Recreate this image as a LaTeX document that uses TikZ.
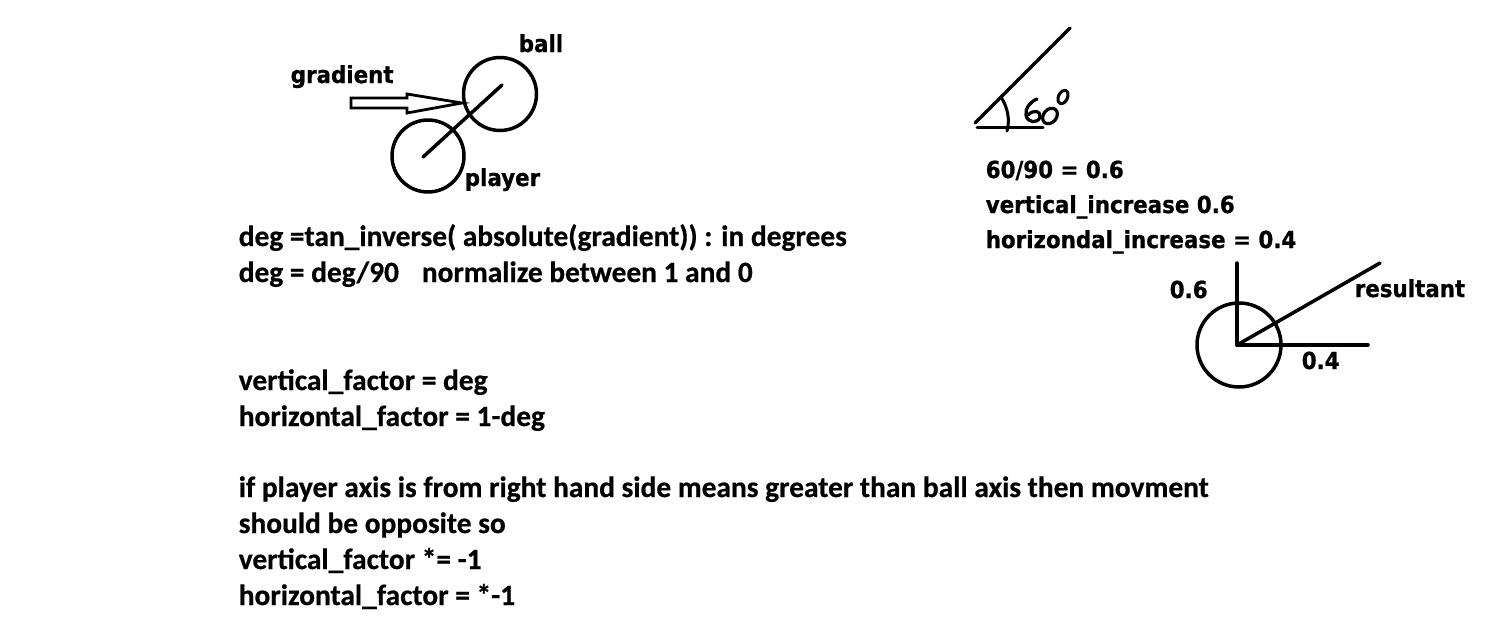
\documentclass[tikz,border=0pt]{standalone}
\usepackage{fontspec}
\setmainfont{Carlito}[BoldFeatures={FakeBold=0.6}]
\newfontfamily\labfont[BoldFont={DejaVu Sans Bold},FakeStretch=0.91,BoldFeatures={FakeBold=0.8}]{DejaVu Sans}
\begin{document}
\begin{tikzpicture}[x=1pt,y=-1pt,line width=3.5pt,line cap=round,line join=round,
  txt/.style={anchor=base west,inner sep=0pt,font=\fontsize{29.4}{34}\selectfont\bfseries},
  lab/.style={anchor=base west,inner sep=0pt,font=\labfont\bfseries\fontsize{23.5}{27}\selectfont},
  ring/.style={circle,draw,line width=3.5pt,inner sep=0pt,minimum size=#1}]
\useasboundingbox (0,0) rectangle (1504,640);
\fill[white] (0,0) rectangle (1504,640);

% --- ball / player sketch
\node[ring=73pt] (ball) at (500,94) {};
\node[ring=72pt] (player) at (428,156) {};
\coordinate (pc) at (423,157);
\coordinate (bc) at (502,85);
\draw (pc) -- (bc);
\coordinate (atail) at (351,103);
\coordinate (atip) at (462,103);
\draw[line width=2.8pt,line join=miter]
  (atail) ++(0,-5) -- (407,98) -- (407,94) -- (atip) -- (407,113) -- (407,108) -- ++(-56,0) -- cycle;
\node[lab] (lgrad) at (289,83) {gradient};
\node[lab] (lball) at (517,52) {ball};
\node[lab] (lplayer) at (463,186) {player};

% --- left text
\node[txt] (t1) at (237,246) {deg =tan\_inverse( absolute(gradient)) : in degrees};
\node[txt] (t2) at (237,282) {deg = deg/90\hspace{0.55em} normalize between 1 and 0};
\node[txt] (t3) at (237,390) {vertical\_factor = deg};
\node[txt] (t4) at (237,426) {horizontal\_factor = 1-deg};
\node[txt] (t5) at (237,497) {if player axis is from right hand side means greater than ball axis then movment};
\node[txt] (t6) at (237,533) {should be opposite so};
\node[txt] (t7) at (237,569) {vertical\_factor *= -1};
\node[txt] (t8) at (237,605) {horizontal\_factor = *-1};

% --- 60 degree sketch
\coordinate (o) at (975,123);
\coordinate (d) at (1070,28);
\draw (o) -- (d);
\draw[line width=3pt] (977,127) -- (1043,127);
\draw[line width=3pt] (1001,97) .. controls (1008,108) and (1010,120) .. (1007,131);
\draw[line width=3.2pt] (1037,99) .. controls (1030,102) and (1025,108) .. (1026,115)
  .. controls (1027,123) and (1038,124) .. (1040,117) .. controls (1041,111) and (1034,109) .. (1028,115);
\draw[line width=3.2pt,rotate around={50:(1050,116)}] (1050,116) ellipse [x radius=8.5pt,y radius=6.5pt];
\draw[line width=3pt,rotate around={65:(1063,97)}] (1063,97) ellipse [x radius=7pt,y radius=4.5pt];

% --- right text
\node[lab] (r1) at (984,178) {60/90 = 0.6};
\node[lab] (r2) at (984,213) {vertical\_increase 0.6};
\node[lab] (r3) at (984,248) {horizondal\_increase = 0.4};

% --- resultant sketch
\node[ring=84pt] (rc) at (1239,345) {};
\coordinate (c0) at (1237,345);
\coordinate (cv) at (1237,263);
\coordinate (ch) at (1368,345);
\coordinate (cr) at (1380,263);
\draw (c0) -- (cv);
\draw (c0) -- (ch);
\draw (c0) -- (cr);
\node[lab] (l06) at (1168,298) {0.6};
\node[lab] (lres) at (1353,297) {resultant};
\node[lab] (l04) at (1300,369) {0.4};
\end{tikzpicture}
\end{document}
